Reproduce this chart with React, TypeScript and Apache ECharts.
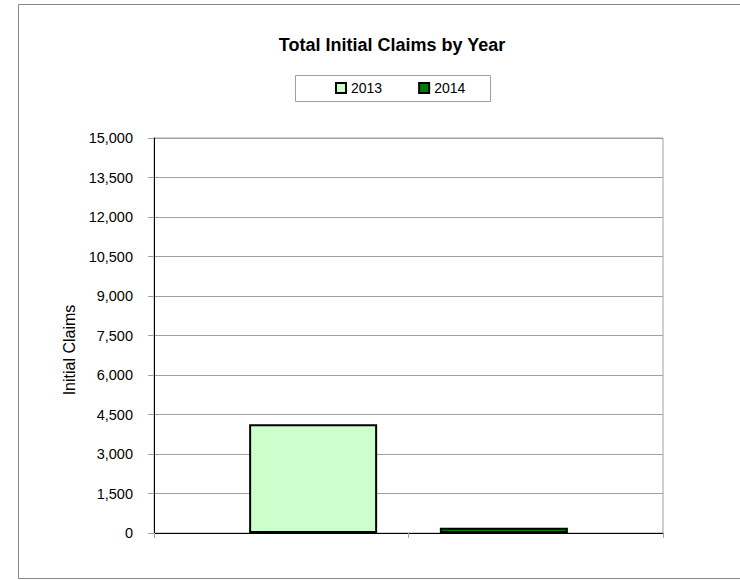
import React, { useEffect, useRef } from "react";
import * as echarts from "echarts";

const title = "Total Initial Claims by Year";
const seriesNames = ["2013", "2014"];
const seriesValues = [4130, 200];
const seriesColors = ["#CCFFCC", "#008000"];
const yAxisName = "Initial Claims";
const yMin = 0;
const yMax = 15000;
const yInterval = 1500;

export default function App() {
  const ref = useRef<HTMLDivElement>(null);
  useEffect(() => {
    if (!ref.current) return;
    const chart = echarts.init(ref.current, null, { renderer: "svg" });
    const font = "'Liberation Sans', Arial, sans-serif";
    chart.setOption({
      animation: false,
      backgroundColor: "#ffffff",
      textStyle: { fontFamily: font },
      title: {
        text: title,
        left: 387,
        top: 31,
        textAlign: "center",
        textStyle: { fontSize: 18, fontWeight: "bold", color: "#000", fontFamily: font },
      },
      legend: {
        data: seriesNames,
        left: 330,
        top: 76,
        itemWidth: 10,
        itemHeight: 10,
        itemGap: 36,
        icon: "rect",
        textStyle: { fontSize: 14, color: "#000", fontFamily: font },
      },
      grid: {
        left: 154,
        right: 77,
        top: 138,
        bottom: 47,
        show: true,
        borderColor: "#a0a0a0",
        borderWidth: 1,
        containLabel: false,
      },
      xAxis: [
        {
          type: "category",
          data: [""],
          axisLine: { show: false },
          axisTick: { show: false },
          axisLabel: { show: false },
        },
        {
          type: "category",
          data: ["", ""],
          position: "bottom",
          boundaryGap: true,
          axisLine: { show: true, lineStyle: { color: "#000", width: 1 } },
          axisTick: { show: true, length: 5, lineStyle: { color: "#a0a0a0" } },
          axisLabel: { show: false },
        },
      ],
      yAxis: {
        type: "value",
        min: yMin,
        max: yMax,
        interval: yInterval,
        axisLine: { show: true, lineStyle: { color: "#000", width: 1 } },
        axisTick: { show: true, length: 6, lineStyle: { color: "#a0a0a0" } },
        axisLabel: {
          fontSize: 14.5,
          color: "#000",
          margin: 21,
          fontFamily: font,
          formatter: (v: number) => v.toLocaleString("en-US"),
        },
        splitLine: { show: true, lineStyle: { color: "#a0a0a0", width: 1 } },
      },
      series: seriesNames.map((name, i) => ({
        name,
        type: "bar",
        xAxisIndex: 0,
        data: [seriesValues[i]],
        barWidth: 128,
        barGap: "49%",
        itemStyle: { color: seriesColors[i], borderColor: "#000", borderWidth: 2 },
      })),
      graphic: [
        {
          type: "rect",
          shape: { x: 18.5, y: 4.5, width: 800, height: 574 },
          style: { fill: "none", stroke: "#888", lineWidth: 1 },
          silent: true,
          z: -10,
        },
        {
          type: "rect",
          shape: { x: 295.5, y: 75.5, width: 195, height: 26 },
          style: { fill: "none", stroke: "#a0a0a0", lineWidth: 1 },
          silent: true,
        },
        {
          type: "text",
          x: 69,
          y: 350,
          rotation: Math.PI / 2,
          style: {
            text: yAxisName,
            fontSize: 16,
            fill: "#000",
            fontFamily: font,
            align: "center",
            verticalAlign: "middle",
          },
        },
      ],
    });
    return () => chart.dispose();
  }, []);
  return <div ref={ref} style={{ width: 740, height: 580, position: "absolute", left: 0, top: 0 }} />;
}
